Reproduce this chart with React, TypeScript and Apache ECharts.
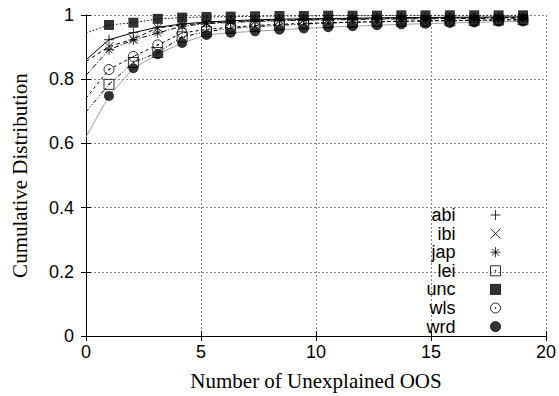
import React, { useEffect, useRef } from "react";
import * as echarts from "echarts";

const xs = [0, 1, 2.06, 3.12, 4.18, 5.24, 6.29, 7.35, 8.41, 9.47, 10.53, 11.59, 12.65, 13.71, 14.76, 15.82, 16.88, 17.94, 19.0];

const names = ["abi", "ibi", "jap", "lei", "unc", "wls", "wrd"];

const abi = [0.86, 0.923, 0.945, 0.962, 0.972, 0.978, 0.982, 0.985, 0.987, 0.988, 0.989, 0.99, 0.991, 0.992, 0.992, 0.993, 0.993, 0.994, 0.994];
const ibi = [0.855, 0.902, 0.925, 0.96, 0.969, 0.975, 0.979, 0.982, 0.984, 0.986, 0.987, 0.988, 0.989, 0.99, 0.99, 0.991, 0.991, 0.992, 0.992];
const jap = [0.812, 0.892, 0.922, 0.944, 0.965, 0.973, 0.977, 0.98, 0.982, 0.984, 0.985, 0.986, 0.987, 0.988, 0.988, 0.989, 0.989, 0.99, 0.99];
const lei = [0.698, 0.784, 0.852, 0.883, 0.932, 0.948, 0.958, 0.964, 0.968, 0.972, 0.975, 0.977, 0.979, 0.98, 0.981, 0.982, 0.983, 0.984, 0.985];
const unc = [0.944, 0.969, 0.976, 0.988, 0.992, 0.994, 0.995, 0.996, 0.997, 0.997, 0.998, 0.998, 0.998, 0.999, 0.999, 0.999, 0.999, 0.999, 0.999];
const wls = [0.741, 0.83, 0.871, 0.907, 0.944, 0.955, 0.962, 0.967, 0.971, 0.974, 0.976, 0.978, 0.979, 0.981, 0.982, 0.983, 0.984, 0.985, 0.985];
const wrd = [0.62, 0.748, 0.834, 0.878, 0.913, 0.938, 0.945, 0.949, 0.954, 0.958, 0.962, 0.965, 0.968, 0.971, 0.973, 0.975, 0.977, 0.979, 0.98];

const values = [abi, ibi, jap, lei, unc, wls, wrd];

const SYM_PLUS = "path://M5 0L5 10M0 5L10 5";
const SYM_CROSS = "path://M0 0L10 10M10 0L0 10";
const SYM_STAR = "path://M5 0L5 10M0 5L10 5M1.6 1.6L8.4 8.4M8.4 1.6L1.6 8.4";
const SYM_BOXDOT = "path://M0 0L10 0L10 10L0 10ZM4.6 4.6L5.4 4.6L5.4 5.4L4.6 5.4Z";
const SYM_BOX = "path://M0 0L10 0L10 10L0 10Z";
const SYM_CIRCDOT = "path://M5 0A5 5 0 1 1 5 10A5 5 0 1 1 5 0ZM4.6 4.6L5.4 4.6L5.4 5.4L4.6 5.4Z";

const symbols = [SYM_PLUS, SYM_CROSS, SYM_STAR, SYM_BOXDOT, SYM_BOX, SYM_CIRCDOT, "circle"];
const filled = [false, false, false, false, true, false, true];
const symSizes = [10, 9, 10, 10, 10, 10, 10];
const lineColors = ["#000", "#000", "#000", "#000", "#000", "#000", "#a0a0a0"];
const lineTypes: any[] = ["solid", [4, 3], [5, 2, 1, 2], [4, 2, 1, 2, 1, 2], [1.5, 2], [3, 3], "solid"];

export default function App() {
  const ref = useRef<HTMLDivElement>(null);
  useEffect(() => {
    const chart = echarts.init(ref.current!, null, { renderer: "svg" });
    const lineSeries = names.map((n, i) => ({
      name: n + " fit",
      type: "line",
      data: xs.map((x, j) => [x, values[i][j]]),
      showSymbol: false,
      symbol: "none",
      lineStyle: { color: lineColors[i], width: 1, type: lineTypes[i] },
      silent: true,
      z: 2,
    }));
    const pointSeries = names.map((n, i) => ({
      name: n,
      type: "scatter",
      data: xs.slice(1).map((x, j) => [x, values[i][j + 1]]),
      symbol: symbols[i],
      symbolSize: symSizes[i],
      itemStyle: filled[i]
        ? { color: "#000", borderColor: "#000", borderWidth: 0 }
        : { color: "rgba(0,0,0,0)", borderColor: "#000", borderWidth: 1 },
      z: 3,
    }));
    const gridLine = { show: true, lineStyle: { color: "#888", width: 1, type: [2, 2] } };
    chart.setOption({
      animation: false,
      grid: { left: 86, right: 13, top: 15, bottom: 56, containLabel: false },
      legend: {
        data: names,
        orient: "vertical",
        align: "right",
        right: 58,
        top: 206,
        padding: 0,
        itemWidth: 70,
        itemHeight: 10,
        itemGap: 0.6,
        selectedMode: false,
        itemStyle: { borderWidth: 1 },
        textStyle: { fontFamily: "Liberation Sans", fontSize: 18, color: "#000", lineHeight: 18 },
      },
      xAxis: [
        {
          type: "value",
          min: 0,
          max: 20,
          interval: 5,
          name: "Number of Unexplained OOS",
          nameLocation: "middle",
          nameGap: 34,
          nameTextStyle: { fontFamily: "Liberation Serif", fontSize: 21, color: "#000" },
          axisLine: { show: true, lineStyle: { color: "#000", width: 1 } },
          axisTick: { show: true, inside: true, length: 5, lineStyle: { color: "#000" } },
          axisLabel: { fontFamily: "Liberation Sans", fontSize: 18, color: "#000", margin: 7 },
          splitLine: gridLine,
        },
        {
          type: "value",
          position: "top",
          min: 0,
          max: 20,
          interval: 5,
          axisLine: { show: true, lineStyle: { color: "#000", width: 1 } },
          axisTick: { show: true, inside: true, length: 5, lineStyle: { color: "#000" } },
          axisLabel: { show: false },
          splitLine: { show: false },
        },
      ],
      yAxis: [
        {
          type: "value",
          min: 0,
          max: 1,
          interval: 0.2,
          name: "Cumulative Distribution",
          nameLocation: "middle",
          nameGap: 56,
          nameTextStyle: { fontFamily: "Liberation Serif", fontSize: 21, color: "#000" },
          axisLine: { show: true, lineStyle: { color: "#000", width: 1 } },
          axisTick: { show: true, inside: true, length: 5, lineStyle: { color: "#000" } },
          axisLabel: { fontFamily: "Liberation Sans", fontSize: 18, color: "#000", margin: 12 },
          splitLine: gridLine,
        },
        {
          type: "value",
          position: "right",
          min: 0,
          max: 1,
          interval: 0.2,
          axisLine: { show: true, lineStyle: { color: "#000", width: 1 } },
          axisTick: { show: true, inside: true, length: 5, lineStyle: { color: "#000" } },
          axisLabel: { show: false },
          splitLine: { show: false },
        },
      ],
      series: [...lineSeries, ...pointSeries],
    });
    return () => chart.dispose();
  }, []);
  return (
    <div
      ref={ref}
      style={{ position: "absolute", left: 0, top: 0, width: 559, height: 396, background: "#fff" }}
    />
  );
}
